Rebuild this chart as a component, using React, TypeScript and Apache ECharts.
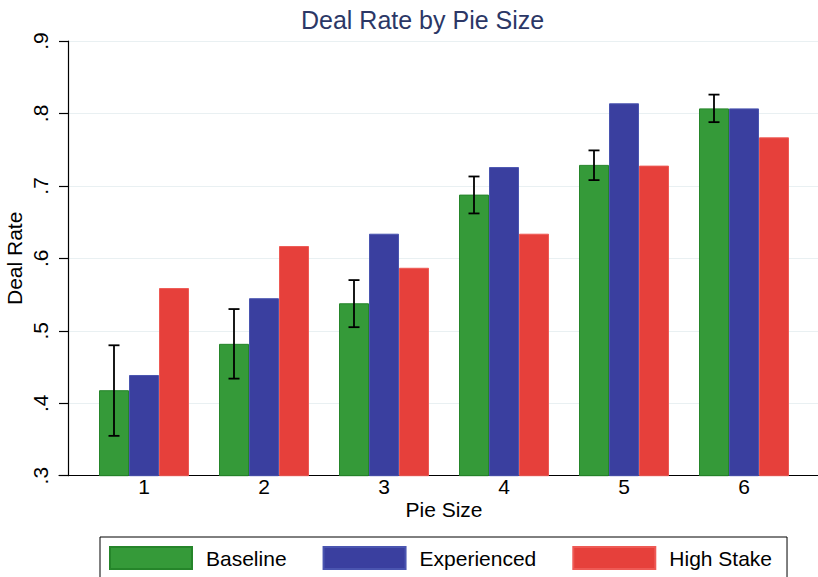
import React, { useEffect, useRef } from "react";
import * as echarts from "echarts";

const categories = ["1", "2", "3", "4", "5", "6"];
const baseline = [0.418, 0.482, 0.538, 0.688, 0.729, 0.807];
const experienced = [0.439, 0.545, 0.634, 0.726, 0.814, 0.807];
const highStake = [0.559, 0.617, 0.587, 0.634, 0.728, 0.767];
const baselineLow = [0.355, 0.434, 0.505, 0.662, 0.708, 0.788];
const baselineHigh = [0.48, 0.53, 0.57, 0.713, 0.749, 0.826];
const yTicks = [".3", ".4", ".5", ".6", ".7", ".8", ".9"];

const FONT = "'Liberation Sans', Arial, Helvetica, sans-serif";

export default function App() {
  const ref = useRef<HTMLDivElement>(null);
  useEffect(() => {
    if (!ref.current) return;
    const chart = echarts.init(ref.current, null, { renderer: "svg" });
    const errData = categories.map((_, i) => [i, baselineLow[i], baselineHigh[i]]);
    chart.setOption({
      animation: false,
      backgroundColor: "#ffffff",
      textStyle: { fontFamily: FONT },
      title: {
        text: "Deal Rate by Pie Size",
        left: 296,
        top: 2,
        textStyle: { fontFamily: FONT, fontSize: 25, fontWeight: "normal", color: "#2b3766" },
      },
      grid: [
        { left: 84, width: 720, top: 41, height: 434.7, containLabel: false, outerBoundsMode: "none" },
        { left: 59, right: 0, top: 41, height: 434.7, containLabel: false, outerBoundsMode: "none" },
      ],
      xAxis: [
        {
          type: "category",
          gridIndex: 0,
          data: categories,
          axisLine: { show: false },
          axisTick: { show: false },
          axisLabel: { fontSize: 21, color: "#000", margin: 0, fontFamily: FONT },
          name: "Pie Size",
          nameLocation: "middle",
          nameGap: 23,
          nameMoveOverlap: false,
          nameTextStyle: { fontSize: 21, color: "#000", fontFamily: FONT, verticalAlign: "top" },
          z: 1,
        },
        {
          type: "value",
          gridIndex: 1,
          min: 0,
          max: 1,
          axisLine: { show: true, lineStyle: { color: "#000", width: 1.2 } },
          axisTick: { show: false },
          axisLabel: { show: false },
          splitLine: { show: false },
          z: 1,
        },
      ],
      yAxis: [
        {
          type: "value",
          gridIndex: 0,
          min: 0.3,
          max: 0.9,
          interval: 0.1,
          offset: 16,
          axisLine: { show: true, lineStyle: { color: "#000", width: 1.2 } },
          axisTick: { show: true, length: 9, lineStyle: { color: "#000", width: 1.2 } },
          axisLabel: {
            fontSize: 21,
            color: "#000",
            rotate: 90,
            margin: 17,
            fontFamily: FONT,
            formatter: (v: number) => yTicks[Math.round((v - 0.3) * 10)] ?? "",
          },
          splitLine: { show: false },
          name: "Deal Rate",
          nameLocation: "middle",
          nameRotate: 90,
          nameGap: 43,
          nameMoveOverlap: false,
          nameTextStyle: { fontSize: 21, color: "#000", fontFamily: FONT },
          z: 1,
        },
        {
          type: "value",
          gridIndex: 1,
          min: 0.3,
          max: 0.9,
          interval: 0.1,
          axisLine: { show: false },
          axisTick: { show: false },
          axisLabel: { show: false },
          splitLine: { show: true, lineStyle: { color: "#e9f0f2", width: 1.2 } },
          z: 0,
        },
      ],
      legend: {
        left: 100,
        top: 537,
        width: 689,
        orient: "horizontal",
        itemWidth: 82,
        itemHeight: 22,
        itemGap: 36,
        padding: [9, 15, 12, 9],
        borderColor: "#000",
        borderWidth: 1,
        icon: "rect",
        textStyle: { fontSize: 21, color: "#000", fontFamily: FONT, padding: [0, 0, 0, 9] },
        data: ["Baseline", "Experienced", "High Stake"],
      },
      series: [
        {
          name: "Baseline",
          type: "bar",
          xAxisIndex: 0,
          yAxisIndex: 0,
          data: baseline,
          barWidth: 30,
          barGap: "0%",
          itemStyle: { color: "#359a39", borderColor: "#25852a", borderWidth: 1 },
          z: 2,
        },
        {
          name: "Experienced",
          type: "bar",
          xAxisIndex: 0,
          yAxisIndex: 0,
          data: experienced,
          barWidth: 30,
          barGap: "0%",
          itemStyle: { color: "#3a3f9f", borderColor: "#4a55b0", borderWidth: 1 },
          z: 2,
        },
        {
          name: "High Stake",
          type: "bar",
          xAxisIndex: 0,
          yAxisIndex: 0,
          data: highStake,
          barWidth: 30,
          barGap: "0%",
          itemStyle: { color: "#e6403b", borderColor: "#ee5a55", borderWidth: 1 },
          z: 2,
        },
        {
          name: "err",
          type: "custom",
          xAxisIndex: 0,
          yAxisIndex: 0,
          data: errData,
          encode: { x: 0, y: [1, 2] },
          z: 5,
          renderItem: (params: any, api: any) => {
            const idx = api.value(0);
            const lo = api.coord([idx, api.value(1)]);
            const hi = api.coord([idx, api.value(2)]);
            const band = api.size([1, 0])[0];
            const x = lo[0] - band * 0.25;
            const cap = 5.5;
            const style = { stroke: "#000", lineWidth: 1.8 };
            return {
              type: "group",
              children: [
                { type: "line", shape: { x1: x, y1: lo[1], x2: x, y2: hi[1] }, style },
                { type: "line", shape: { x1: x - cap, y1: lo[1], x2: x + cap, y2: lo[1] }, style },
                { type: "line", shape: { x1: x - cap, y1: hi[1], x2: x + cap, y2: hi[1] }, style },
              ],
            };
          },
        },
      ],
    });
    return () => chart.dispose();
  }, []);
  return (
    <div
      ref={ref}
      style={{ position: "fixed", left: 0, top: 0, width: 818, height: 577, background: "#fff" }}
    />
  );
}
